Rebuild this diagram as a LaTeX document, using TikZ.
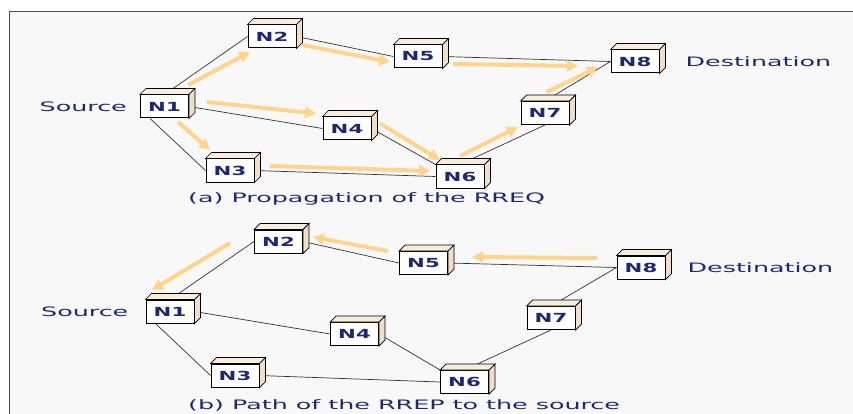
\documentclass[tikz,border=0pt]{standalone}
\usepackage{fontspec}
\setmainfont{DejaVu Sans}[FakeStretch=1.95]
\newfontfamily\nodefont{DejaVu Sans}[FakeStretch=1.7]
\usetikzlibrary{arrows.meta,calc}
\definecolor{navy}{RGB}{30,40,110}
\definecolor{framebg}{RGB}{248,248,248}
\definecolor{topcol}{RGB}{250,236,218}
\definecolor{sidecol}{RGB}{238,222,204}
\definecolor{orangearr}{RGB}{255,212,142}
\pgfdeclarelayer{bg}
\pgfdeclarelayer{edges}
\pgfsetlayers{bg,edges,main}
\newcommand\netnode[3]{%
  \node[nbox] (#1) at (#2) {#3};
  \filldraw[boxtop] (#1.north west) -- ([shift={(6,-6)}]#1.north west) -- ([shift={(6,-6)}]#1.north east) -- (#1.north east) -- cycle;
  \filldraw[boxside] (#1.north east) -- ([shift={(6,-6)}]#1.north east) -- ([shift={(6,-6)}]#1.south east) -- (#1.south east) -- cycle;
}
\begin{document}
\begin{tikzpicture}[x=1pt,y=-1pt,
  nbox/.style={draw=black, line width=1pt, fill=white, minimum width=48pt, minimum height=23pt, inner sep=0pt, font=\nodefont\bfseries\fontsize{12.5}{14}\selectfont, text=navy},
  boxtop/.style={draw=black, line width=0.7pt, fill=topcol},
  boxside/.style={draw=black, line width=0.7pt, fill=sidecol},
  link/.style={draw=black!80, line width=0.7pt},
  oarr/.style={draw=orangearr, line width=4pt, -{Triangle[length=11pt,width=11pt]}},
  lbl/.style={font=\fontsize{13}{15}\selectfont, text=navy, inner sep=0pt},
]
\useasboundingbox (0,0) rectangle (853,414);
\clip (0,0) rectangle (853,414);
\begin{pgfonlayer}{bg}
  \fill[white] (0,0) rectangle (853,414);
  \filldraw[fill=framebg, draw=black!70, line width=1pt] (9,12) rectangle (880,440);
\end{pgfonlayer}

% ---------- (a) ----------
\netnode{a1}{164.5,106.5}{N1}
\netnode{a2}{272,36.5}{N2}
\netnode{a3}{230,170.5}{N3}
\netnode{a4}{347,128.5}{N4}
\netnode{a5}{418,56.5}{N5}
\netnode{a6}{460,176.5}{N6}
\netnode{a7}{545,113}{N7}
\netnode{a8}{635,61.5}{N8}
\node[lbl, anchor=east] (srcA) at ([xshift=-13]a1.west) {Source};
\node[lbl, anchor=west] (dstA) at ([xshift=26]a8.east) {Destination};
\node[lbl, anchor=west] (capA) at (188,199) {(a) Propagation of the RREQ};

\begin{pgfonlayer}{edges}
  \draw[link] (a1.north) -- (a2.west);
  \draw[link] (a1.east) -- (a4.west);
  \draw[link] ([xshift=10]a1.south west) -- (a3.west);
  \draw[link] (a2.east) -- (a5.west);
  \draw[link] (a5.east) -- (a8.west);
  \draw[link] (a4.east) -- (a6.north west);
  \draw[link] (a3.east) -- (a6.west);
  \draw[link] (a6.north) -- (a7.south);
  \draw[link] (a7.north) -- (a8.west);
  \draw[oarr] ($(a1)+(23.5,-21.5)$) -- ($(a2)+(-22,15.5)$);
  \draw[oarr] ($(a2)+(30,8.5)$) -- ($(a5)+(-28,5.5)$);
  \draw[oarr] ($(a1)+(42.5,-4.5)$) -- ($(a4)+(-31,-15)$);
  \draw[oarr] ($(a1)+(13.5,15.5)$) -- ($(a3)+(-20,-20.5)$);
  \draw[oarr] ($(a3)+(40,-4.5)$) -- ($(a6)+(-30,-5.5)$);
  \draw[oarr] ($(a4)+(33,-5)$) -- ($(a6)+(-20,-16.5)$);
  \draw[oarr] ($(a5)+(35,7.5)$) -- ($(a8)+(-57,4.5)$);
  \draw[oarr] ($(a6)+(0,-20.5)$) -- ($(a7)+(-27,14)$);
  \draw[oarr] ($(a7)+(2,-21)$) -- ($(a8)+(-37,5.5)$);
\end{pgfonlayer}

% ---------- (b) ----------
\netnode{b1}{170,311.5}{N1}
\netnode{b2}{278.5,241.5}{N2}
\netnode{b3}{235,375.5}{N3}
\netnode{b4}{354.5,334}{N4}
\netnode{b5}{423.5,263}{N5}
\netnode{b6}{464.5,382}{N6}
\netnode{b7}{551,318}{N7}
\netnode{b8}{641,267.5}{N8}
\node[lbl, anchor=east] (srcB) at ([xshift=-17]b1.west) {Source};
\node[lbl, anchor=west] (dstB) at ([xshift=22]b8.east) {Destination};
\node[lbl, anchor=west] (capB) at (188,405) {(b) Path of the RREP to the source};

\begin{pgfonlayer}{edges}
  \draw[link] (b1.north) -- (b2.west);
  \draw[link] (b1.east) -- (b4.west);
  \draw[link] ([xshift=10]b1.south west) -- (b3.west);
  \draw[link] (b2.east) -- (b5.west);
  \draw[link] (b5.east) -- (b8.west);
  \draw[link] (b4.east) -- (b6.north west);
  \draw[link] (b3.east) -- (b6.west);
  \draw[link] (b6.north) -- (b7.south);
  \draw[link] (b7.north) -- (b8.west);
  \draw[oarr] ($(b8)+(-44,-9.5)$) -- ($(b5)+(48.5,-6)$);
  \draw[oarr] ($(b5)+(-35.5,-12)$) -- ($(b2)+(34.5,-4.5)$);
  \draw[oarr] ($(b2)+(-48.5,1.5)$) -- ($(b1)+(-18,-21.5)$);
\end{pgfonlayer}
\end{tikzpicture}
\end{document}
